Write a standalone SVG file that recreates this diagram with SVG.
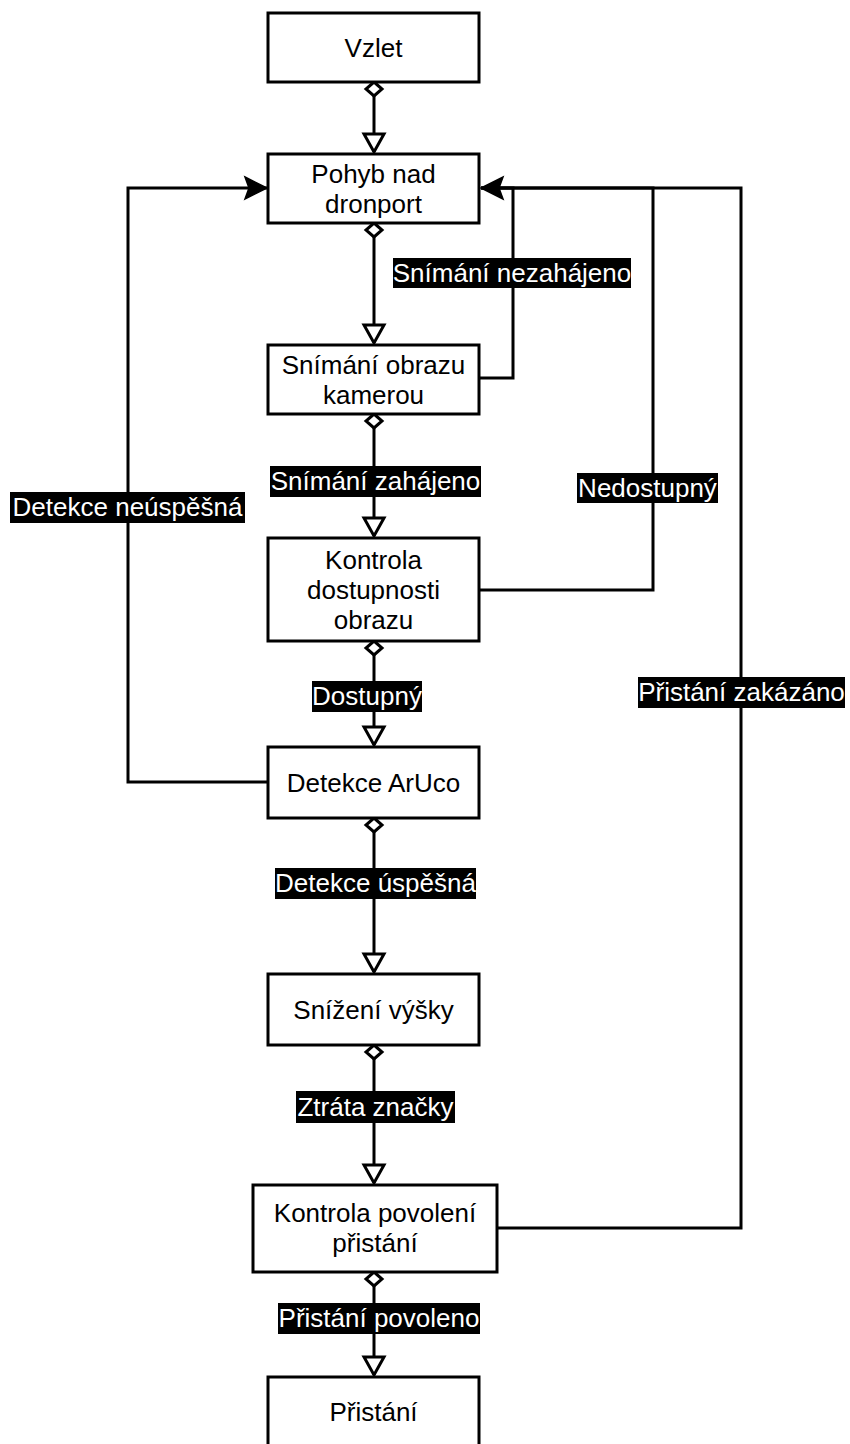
<svg xmlns="http://www.w3.org/2000/svg" width="850" height="1444" viewBox="0 0 850 1444">
<style>
.box{fill:#fff;stroke:#000;stroke-width:3}
.t{font-family:"Liberation Sans",Arial,sans-serif;font-size:26px;fill:#000;text-anchor:middle}
.edge{fill:none;stroke:#000;stroke-width:3}
.lbg{fill:#000}
.lt{font-family:"Liberation Sans",Arial,sans-serif;font-size:26px;fill:#fff;text-anchor:middle}
</style>
<defs>
<marker id="dia" markerUnits="userSpaceOnUse" markerWidth="20" markerHeight="20" viewBox="-2 -2 20 20" refX="0" refY="8" orient="auto" overflow="visible">
<path d="M0,8 L7,0 L14,8 L7,16 Z" fill="#fff" stroke="#000" stroke-width="3"/>
</marker>
<marker id="tri" markerUnits="userSpaceOnUse" markerWidth="24" markerHeight="24" viewBox="-2 -2 24 24" refX="18" refY="10" orient="auto" overflow="visible">
<path d="M0,0 L18,10 L0,20 Z" fill="#fff" stroke="#000" stroke-width="3" stroke-linejoin="miter"/>
</marker>
<marker id="blk" markerUnits="userSpaceOnUse" markerWidth="26" markerHeight="26" viewBox="0 0 26 26" refX="22" refY="11" orient="auto" overflow="visible">
<path d="M0,0 L22,11 L0,22 L4,11 Z" fill="#000" stroke="#000" stroke-width="1.5"/>
</marker>
</defs>

<g id="connectors">
<path class="edge" d="M374,82 V152" marker-start="url(#dia)" marker-end="url(#tri)"/>
<path class="edge" d="M374,223 V343" marker-start="url(#dia)" marker-end="url(#tri)"/>
<path class="edge" d="M374,414 V536" marker-start="url(#dia)" marker-end="url(#tri)"/>
<path class="edge" d="M374,641 V745" marker-start="url(#dia)" marker-end="url(#tri)"/>
<path class="edge" d="M374,818 V972" marker-start="url(#dia)" marker-end="url(#tri)"/>
<path class="edge" d="M374,1045 V1183" marker-start="url(#dia)" marker-end="url(#tri)"/>
<path class="edge" d="M374,1272 V1375" marker-start="url(#dia)" marker-end="url(#tri)"/>
<path class="edge" d="M268,782 H128 V188 H267" marker-end="url(#blk)"/>
<path class="edge" d="M479,378 H513 V188 H481" marker-end="url(#blk)"/>
<path class="edge" d="M479,590 H653 V188 H481"/>
<path class="edge" d="M497,1228 H741 V188 H481"/>

<g id="lbl-nezahajeno"><rect class="lbg" x="393" y="258" width="238" height="30"/><text class="lt" x="512" y="282">Snímání nezahájeno</text></g>
<g id="lbl-zahajeno"><rect class="lbg" x="270" y="466" width="211" height="31"/><text class="lt" x="375.5" y="490">Snímání zahájeno</text></g>
<g id="lbl-nedostupny"><rect class="lbg" x="577" y="473" width="141" height="30"/><text class="lt" x="647.5" y="497">Nedostupný</text></g>
<g id="lbl-neuspesna"><rect class="lbg" x="10" y="492" width="235" height="31"/><text class="lt" x="127.5" y="516">Detekce neúspěšná</text></g>
<g id="lbl-dostupny"><rect class="lbg" x="312" y="681" width="110" height="31"/><text class="lt" x="367" y="705">Dostupný</text></g>
<g id="lbl-zakazano"><rect class="lbg" x="638" y="677" width="207" height="31"/><text class="lt" x="741.5" y="701">Přistání zakázáno</text></g>
<g id="lbl-uspesna"><rect class="lbg" x="275" y="868" width="201" height="31"/><text class="lt" x="375.5" y="892">Detekce úspěšná</text></g>
<g id="lbl-ztrata"><rect class="lbg" x="296" y="1091" width="159" height="32"/><text class="lt" x="375.5" y="1116">Ztráta značky</text></g>
<g id="lbl-povoleno"><rect class="lbg" x="278" y="1303" width="202" height="31"/><text class="lt" x="379" y="1327">Přistání povoleno</text></g>
</g>

<g id="n-vzlet"><rect class="box" x="268" y="13" width="211" height="69"/><text class="t" x="373.5" y="57">Vzlet</text></g>
<g id="n-pohyb"><rect class="box" x="268" y="154" width="211" height="69"/><text class="t" x="373.5" y="183">Pohyb nad</text><text class="t" x="373.5" y="213">dronport</text></g>
<g id="n-snimani"><rect class="box" x="268" y="345" width="211" height="69"/><text class="t" x="373.5" y="374">Snímání obrazu</text><text class="t" x="373.5" y="404">kamerou</text></g>
<g id="n-kontrola-dostupnosti"><rect class="box" x="268" y="538" width="211" height="103"/><text class="t" x="373.5" y="569">Kontrola</text><text class="t" x="373.5" y="599">dostupnosti</text><text class="t" x="373.5" y="629">obrazu</text></g>
<g id="n-detekce"><rect class="box" x="268" y="747" width="211" height="71"/><text class="t" x="373.5" y="792">Detekce ArUco</text></g>
<g id="n-snizeni"><rect class="box" x="268" y="974" width="211" height="71"/><text class="t" x="373.5" y="1019">Snížení výšky</text></g>
<g id="n-kontrola-povoleni"><rect class="box" x="253" y="1185" width="244" height="87"/><text class="t" x="375" y="1222">Kontrola povolení</text><text class="t" x="375" y="1252">přistání</text></g>
<g id="n-pristani"><rect class="box" x="268" y="1377" width="211" height="70"/><text class="t" x="373.5" y="1421">Přistání</text></g>
</svg>
